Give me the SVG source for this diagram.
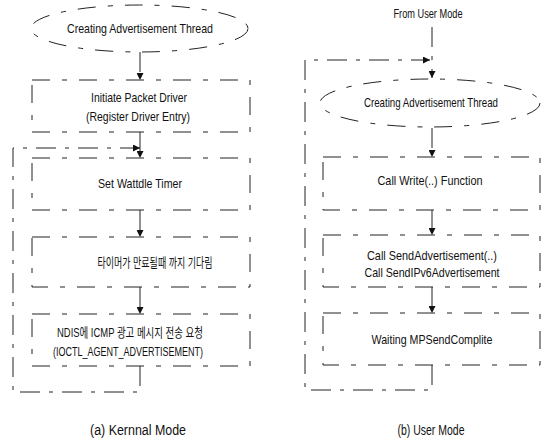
<svg xmlns="http://www.w3.org/2000/svg" width="543" height="441" viewBox="0 0 543 441">
<style>
.ln{fill:none;stroke:#222;stroke-width:1;stroke-dasharray:20 9 4 9}
.bx{fill:none;stroke:#222;stroke-width:1;stroke-dasharray:18 12 5 12}
.t{font-family:"Liberation Sans",Arial,"Noto Sans CJK KR",sans-serif;font-size:13px;fill:#111;text-anchor:middle}
.c{font-size:14px}
</style>
<defs>
<marker id="ah" viewBox="0 0 10 10" refX="10" refY="5" markerWidth="11" markerHeight="7" orient="auto" markerUnits="userSpaceOnUse">
<path d="M0,0 L10,5 L0,10 Z" fill="#111"/>
</marker>
</defs>
<g id="connectors">
<line class="ln" x1="140" y1="52" x2="140" y2="80" marker-end="url(#ah)"/>
<line class="ln" x1="140" y1="132" x2="140" y2="158" marker-end="url(#ah)"/>
<line class="ln" x1="140" y1="210" x2="140" y2="237" marker-end="url(#ah)"/>
<line class="ln" x1="140" y1="287" x2="140" y2="314" marker-end="url(#ah)"/>
<polyline class="ln" points="140,366 140,392 13,392 13,148 140,148" marker-end="url(#ah)"/>
<line class="ln" x1="432" y1="27" x2="432" y2="78" marker-end="url(#ah)"/>
<line class="ln" x1="432" y1="128" x2="432" y2="157" marker-end="url(#ah)"/>
<line class="ln" x1="432" y1="210" x2="432" y2="235" marker-end="url(#ah)"/>
<line class="ln" x1="432" y1="287" x2="432" y2="313" marker-end="url(#ah)"/>
<polyline class="ln" points="432,365 432,390 305,390 305,60 430,60" marker-end="url(#ah)"/>
</g>
<g id="k-start">
<ellipse class="bx" cx="139.5" cy="28.5" rx="108.5" ry="23.5"/>
<text class="t" x="140" y="33" textLength="146" lengthAdjust="spacingAndGlyphs">Creating Advertisement Thread</text>
</g>
<g id="k-init">
<rect class="bx" x="32" y="80" width="218" height="52"/>
<text class="t" x="139" y="102" textLength="96" lengthAdjust="spacingAndGlyphs">Initiate Packet Driver</text>
<text class="t" x="138" y="121" textLength="104" lengthAdjust="spacingAndGlyphs">(Register Driver Entry)</text>
</g>
<g id="k-timer">
<rect class="bx" x="32" y="158" width="218" height="52"/>
<text class="t" x="140" y="188" textLength="84" lengthAdjust="spacingAndGlyphs">Set Wattdle Timer</text>
</g>
<g id="k-wait">
<rect class="bx" x="32" y="237" width="218" height="50"/>
<text class="t" x="155" y="267" textLength="115" lengthAdjust="spacingAndGlyphs">타이머가 만료될때 까지 기다림</text>
</g>
<g id="k-ndis">
<rect class="bx" x="32" y="314" width="218" height="52"/>
<text class="t" x="130" y="337" textLength="146" lengthAdjust="spacingAndGlyphs">NDIS에 ICMP 광고 메시지 전송 요청</text>
<text class="t" x="128" y="356" textLength="150" lengthAdjust="spacingAndGlyphs">(IOCTL_AGENT_ADVERTISEMENT)</text>
</g>
<text class="t c" x="138" y="435" textLength="96" lengthAdjust="spacingAndGlyphs">(a) Kernnal Mode</text>
<text class="t" x="428" y="18" textLength="69" lengthAdjust="spacingAndGlyphs">From User Mode</text>
<g id="u-start">
<ellipse class="bx" cx="430" cy="103" rx="110" ry="24"/>
<text class="t" x="431" y="107" textLength="134" lengthAdjust="spacingAndGlyphs">Creating Advertisement Thread</text>
</g>
<g id="u-write">
<rect class="bx" x="323" y="157" width="217" height="53"/>
<text class="t" x="430" y="185" textLength="105" lengthAdjust="spacingAndGlyphs">Call Write(..) Function</text>
</g>
<g id="u-send">
<rect class="bx" x="323" y="235" width="217" height="52"/>
<text class="t" x="432" y="260" textLength="130" lengthAdjust="spacingAndGlyphs">Call SendAdvertisement(..)</text>
<text class="t" x="432" y="277" textLength="135" lengthAdjust="spacingAndGlyphs">Call SendIPv6Advertisement</text>
</g>
<g id="u-wait">
<rect class="bx" x="323" y="313" width="217" height="52"/>
<text class="t" x="432" y="344" textLength="121" lengthAdjust="spacingAndGlyphs">Waiting MPSendComplite</text>
</g>
<text class="t c" x="431" y="435" textLength="67" lengthAdjust="spacingAndGlyphs">(b) User Mode</text>
</svg>
